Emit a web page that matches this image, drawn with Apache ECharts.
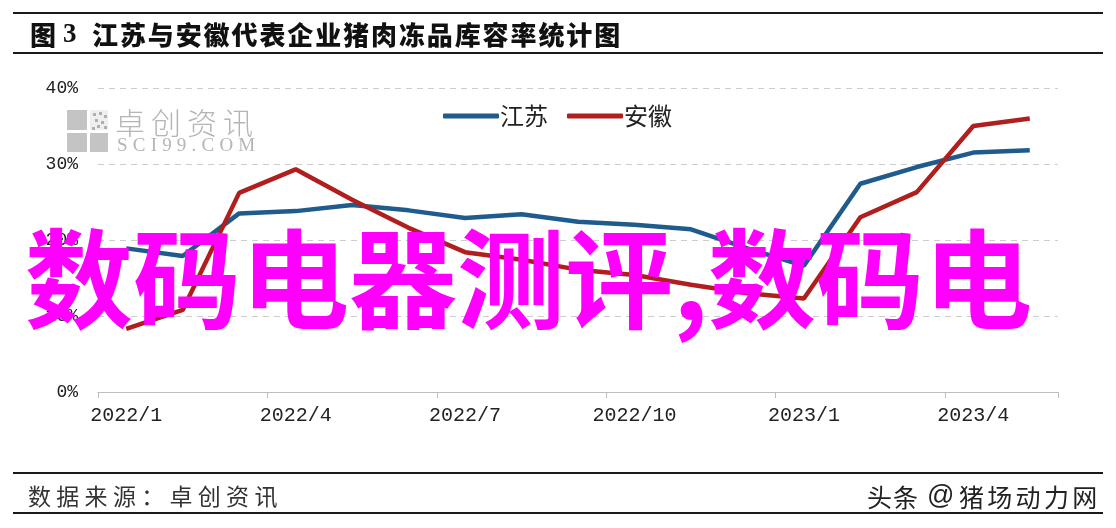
<!DOCTYPE html>
<html>
<head>
<meta charset="utf-8">
<script src="https://cdn.jsdelivr.net/npm/echarts@6/dist/echarts.min.js"></script>
<style>
html,body{margin:0;padding:0;background:#fff;}
#chart{width:1116px;height:528px;}
</style>
</head>
<body>
<div id="chart"></div>
<script>
// ---- data ----
var months = ['2022/1','2022/2','2022/3','2022/4','2022/5','2022/6','2022/7','2022/8','2022/9','2022/10','2022/11','2022/12','2023/1','2023/2','2023/3','2023/4','2023/5'];
var jiangsu = [18.9, 17.9, 23.5, 23.8, 24.6, 23.9, 22.9, 23.4, 22.4, 22.0, 21.4, 18.9, 16.6, 27.4, 29.6, 31.5, 31.8];
var anhui   = [8.3, 10.8, 26.2, 29.3, 25.3, 21.6, 18.4, 17.4, 16.1, 15.4, 14.1, 13.0, 12.3, 23.0, 26.3, 35.0, 36.0];
var seriesNames = ['江苏', '安徽'];
var yTicks = [0, 10, 20, 30, 40];
var titleText = ['图', '3', '江苏与安徽代表企业猪肉冻品库容率统计图'];
var sourceText = '数据来源：卓创资讯';
var creditText = ['头条', '@', '猪场动力网'];
var overlayText = '数码电器测评,数码电';

// ---- helpers ----
var mctx = document.createElement('canvas').getContext('2d');
function pitchText(str, x, y, font, pitch, fill, z) {
  var els = [];
  for (var i = 0; i < str.length; i++) {
    els.push({
      type: 'text', x: x + i * pitch, y: y, z: z || 10, silent: true,
      style: { text: str[i], font: font, fill: fill, textAlign: 'left', textVerticalAlign: 'middle', align: 'left', verticalAlign: 'middle' }
    });
  }
  return els;
}
function spacedText(str, x, y, font, spacing, fill, z) {
  var els = [];
  mctx.font = font;
  var cx = x;
  for (var i = 0; i < str.length; i++) {
    var ch = str[i];
    els.push({
      type: 'text', x: cx, y: y, z: z || 10, silent: true,
      style: { text: ch, font: font, fill: fill, textAlign: 'left', textVerticalAlign: 'middle', align: 'left', verticalAlign: 'middle' }
    });
    cx += mctx.measureText(ch).width + spacing;
  }
  return els;
}

var CJK = '"Noto Sans CJK SC", "Noto Sans", sans-serif';
var graphics = [];
function hline(y) {
  graphics.push({ type: 'line', shape: { x1: 13, y1: y, x2: 1103, y2: y }, style: { stroke: '#1a1a1a', lineWidth: 2 }, silent: true });
}
hline(13); hline(53); hline(473); hline(513);
// title
var tf = '900 26px ' + CJK;
graphics = graphics.concat(pitchText(titleText[0], 30, 35, tf, 27.9, '#111'));
graphics = graphics.concat(pitchText(titleText[1], 63, 35, 'bold 27px "Liberation Serif", serif', 14, '#111'));
graphics = graphics.concat(pitchText(titleText[2], 92, 35, tf, 27.9, '#111'));
// footer texts
graphics = graphics.concat(pitchText(sourceText, 28, 496, '23px ' + CJK, 28.3, '#333'));
graphics = graphics.concat(pitchText(creditText[0], 867, 497, '25px ' + CJK, 26, '#222'));
graphics = graphics.concat(pitchText(creditText[1], 927, 497, '27px "Liberation Sans", sans-serif', 30, '#222'));
graphics = graphics.concat(pitchText(creditText[2], 959, 497, '25px ' + CJK, 28.3, '#222'));
// watermark logo
graphics.push({ type: 'rect', shape: { x: 67, y: 110, width: 20, height: 20 }, style: { fill: '#c4c4c4' }, silent: true, z: 1 });
graphics.push({ type: 'rect', shape: { x: 90, y: 110, width: 18, height: 20 }, style: { fill: '#efefef' }, silent: true, z: 1 });
var dots = [[93,113],[99,112],[104,115],[95,119],[101,121],[97,125],[104,126],[92,127]];
dots.forEach(function (d) {
  graphics.push({ type: 'rect', shape: { x: d[0], y: d[1], width: 3, height: 3 }, style: { fill: '#b0b0b0' }, silent: true, z: 1 });
});
graphics.push({ type: 'rect', shape: { x: 67, y: 133, width: 20, height: 19 }, style: { fill: '#c4c4c4' }, silent: true, z: 1 });
graphics.push({ type: 'rect', shape: { x: 90, y: 133, width: 18, height: 19 }, style: { fill: '#c4c4c4' }, silent: true, z: 1 });
graphics = graphics.concat(pitchText('卓创资讯', 115, 123, '300 30px ' + CJK, 36, '#b5b5b5', 1));
graphics = graphics.concat(spacedText('SCI99.COM', 117, 146, '19px "Liberation Serif", serif', 5.2, '#b5b5b5', 1));
// overlay magenta text
graphics.push({
  type: 'text', x: 25, y: 279, z: 100, silent: true,
  style: { text: overlayText, font: 'bold 108px ' + CJK, fill: '#ff00ff', textAlign: 'left', textVerticalAlign: 'middle', align: 'left', verticalAlign: 'middle' }
});

var chart = echarts.init(document.getElementById('chart'), null, { renderer: 'canvas' });
chart.setOption({
  backgroundColor: '#ffffff',
  animation: false,
  grid: { left: 98, right: 58, top: 88, bottom: 136, containLabel: false },
  legend: {
    data: seriesNames,
    left: 438, top: 99,
    icon: 'roundRect',
    itemWidth: 56, itemHeight: 5, itemGap: 19,
    textStyle: { fontSize: 24, fontFamily: 'Noto Sans CJK SC', color: '#222', padding: [0, 0, 0, -4] }
  },
  xAxis: {
    type: 'category',
    data: months,
    boundaryGap: true,
    axisLine: { lineStyle: { color: '#bdbdbd', width: 1 } },
    axisTick: { show: true, interval: 2, length: 6, lineStyle: { color: '#bdbdbd' } },
    axisLabel: { interval: 2, margin: 14, fontSize: 20, fontFamily: 'Liberation Mono', color: '#222' }
  },
  yAxis: {
    type: 'value',
    min: yTicks[0], max: yTicks[yTicks.length - 1], interval: 10,
    axisLine: { show: false },
    axisTick: { show: false },
    axisLabel: { formatter: '{value}%', margin: 20, fontSize: 18, fontFamily: 'Liberation Mono', color: '#222' },
    splitLine: { lineStyle: { color: '#cccccc', type: [6, 5], width: 1 } }
  },
  series: [
    { name: seriesNames[0], type: 'line', data: jiangsu, symbol: 'none', smooth: false,
      lineStyle: { color: '#1f5b8c', width: 4.5 }, itemStyle: { color: '#1f5b8c' }, z: 3 },
    { name: seriesNames[1], type: 'line', data: anhui, symbol: 'none', smooth: false,
      lineStyle: { color: '#b01e1e', width: 4.5 }, itemStyle: { color: '#b01e1e' }, z: 4 }
  ],
  graphic: { elements: graphics }
});
</script>
</body>
</html>
